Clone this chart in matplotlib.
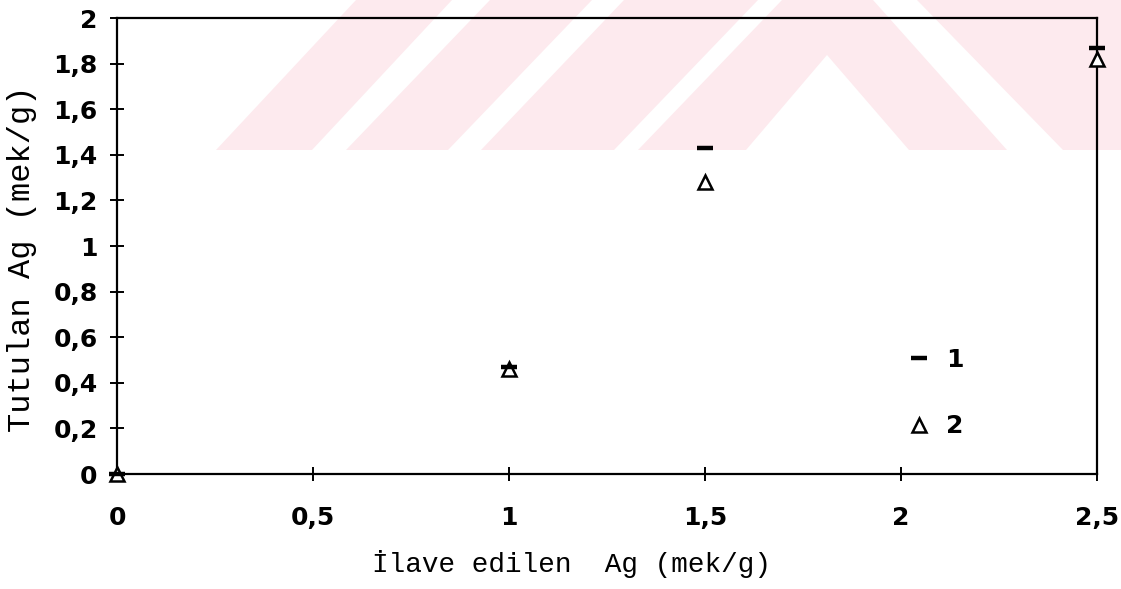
import matplotlib
matplotlib.use("Agg")
import matplotlib.pyplot as plt
from matplotlib.patches import Polygon
from matplotlib.lines import Line2D

# Silver added vs. silver retained (mek/g)
added = [0, 1, 1.5, 2.5]
retained_1 = [0, 0.47, 1.43, 1.87]
retained_2 = [0, 0.46, 1.28, 1.82]
series_labels = ["1", "2"]

x_ticks = [0, 0.5, 1, 1.5, 2, 2.5]
x_ticklabels = ["0", "0,5", "1", "1,5", "2", "2,5"]
y_ticks = [0, 0.2, 0.4, 0.6, 0.8, 1.0, 1.2, 1.4, 1.6, 1.8, 2.0]
y_ticklabels = ["0", "0,2", "0,4", "0,6", "0,8", "1", "1,2", "1,4", "1,6", "1,8", "2"]

x_title = "İlave edilen  Ag (mek/g)"
y_title = "Tutulan Ag (mek/g)"

W, H = 1121, 589
fig = plt.figure(figsize=(W / 100, H / 100), dpi=100)
fig.patch.set_facecolor("white")

# faint background emblem (pixel outlines, y measured downward)
emblem = [
    [(216, 150), (312, 150), (452, 0), (356, 0)],
    [(346, 150), (448, 150), (592, 0), (490, 0)],
    [(481, 150), (614, 150), (758, 0), (624, 0)],
    [(638, 150), (782, 0), (873, 0), (1007, 150), (909, 150), (827, 55), (746, 150)],
    [(917, 0), (1121, 0), (1121, 150), (1063, 150)],
]
for shape in emblem:
    pts = [(px / W, 1 - py / H) for px, py in shape]
    fig.add_artist(Polygon(pts, closed=True, transform=fig.transFigure,
                           facecolor="#fdeaee", edgecolor="none", zorder=-5))

left, right = 117 / W, 1097 / W
bottom, top = 1 - 474 / H, 1 - 18 / H
ax = fig.add_axes([left, bottom, right - left, top - bottom])
ax.patch.set_alpha(0)

ax.plot(added, retained_1, linestyle="none", marker="_", markersize=12,
        markeredgewidth=3.2, color="black", clip_on=False, zorder=5)
ax.plot(added, retained_2, linestyle="none", marker="^", markersize=10,
        markeredgewidth=1.8, markerfacecolor="white", markeredgecolor="black",
        clip_on=False, zorder=4)

ax.set_xlim(0, 2.5)
ax.set_ylim(0, 2)

for s in ax.spines.values():
    s.set_linewidth(1.6)
    s.set_color("black")

tick_font = dict(family="DejaVu Sans", weight="bold", size=18)
ax.set_xticks(x_ticks)
ax.set_xticklabels(x_ticklabels, fontdict=tick_font)
ax.set_yticks(y_ticks)
ax.set_yticklabels(y_ticklabels, fontdict=tick_font)
ax.tick_params(axis="both", direction="inout", length=10, width=1.4, color="black")
ax.tick_params(axis="x", pad=18)
ax.tick_params(axis="y", pad=9)

ax.set_xlabel(x_title, fontdict=dict(family="Liberation Mono", size=20))
ax.xaxis.label.set_ha("left")
ax.xaxis.set_label_coords((372 - 117) / 980, (474 - 550) / 456)
ax.xaxis.label.set_va("top")

ax.set_ylabel(y_title, fontdict=dict(family="Liberation Mono", size=23))
ax.yaxis.label.set_rotation_mode("anchor")
ax.yaxis.label.set_ha("left")
ax.yaxis.label.set_va("center")
ax.yaxis.set_label_coords((22 - 117) / 980, (474 - 432) / 456)

handles = [
    Line2D([], [], linestyle="none", marker="_", markersize=12,
           markeredgewidth=3.2, color="black"),
    Line2D([], [], linestyle="none", marker="^", markersize=10,
           markeredgewidth=1.8, markerfacecolor="white", markeredgecolor="black"),
]
leg = ax.legend(handles, series_labels, loc="center",
                bbox_to_anchor=((935 - 117) / 980, (474 - 393) / 456),
                frameon=False, handlelength=1.0, handletextpad=0.6,
                labelspacing=1.7, prop=dict(family="DejaVu Sans", weight="bold", size=18))

fig.savefig("out.png", dpi=100, facecolor="white")
